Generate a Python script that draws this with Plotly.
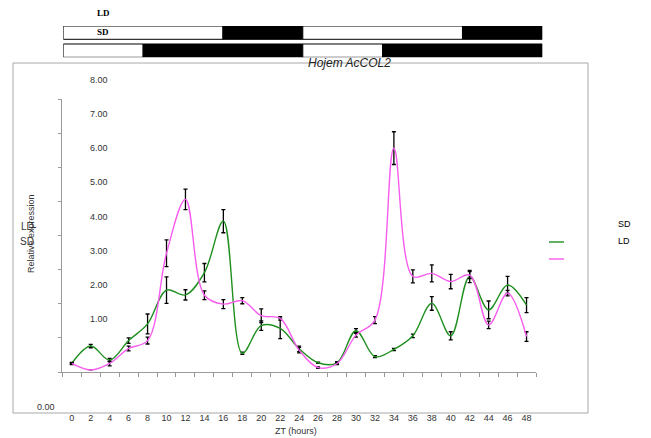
import plotly.graph_objects as go

# ---- data -------------------------------------------------------------
ZT = list(range(0, 49, 2))
ZT_LABELS = [str(t) for t in ZT]

SD_MEAN = [0.25, 0.76, 0.35, 0.92, 1.41, 2.40, 2.26, 2.91, 4.42, 0.55, 1.36, 1.28, 0.68,
           0.27, 0.27, 1.21, 0.45, 0.66, 1.06, 2.01, 1.06, 2.80, 1.82, 2.55, 1.96]
SD_ERR = [0.02, 0.05, 0.05, 0.08, 0.29, 0.39, 0.15, 0.27, 0.34, 0.03, 0.14, 0.30, 0.08,
          0.02, 0.03, 0.06, 0.03, 0.03, 0.05, 0.20, 0.12, 0.18, 0.26, 0.25, 0.22]

LD_MEAN = [0.25, 0.06, 0.25, 0.69, 0.92, 3.48, 5.06, 2.25, 1.99, 2.09, 1.65, 1.57, 0.64,
           0.13, 0.25, 1.08, 1.52, 6.56, 2.80, 2.89, 2.65, 2.84, 1.38, 2.31, 1.04]
LD_ERR = [0.03, 0.00, 0.07, 0.07, 0.10, 0.39, 0.30, 0.13, 0.13, 0.09, 0.20, 0.05, 0.08,
          0.02, 0.03, 0.06, 0.10, 0.48, 0.19, 0.25, 0.21, 0.10, 0.11, 0.08, 0.14]

Y_TICKS = [0, 1, 2, 3, 4, 5, 6, 7, 8]
Y_TICK_TEXT = ["0.00", "1.00", "2.00", "3.00", "4.00", "5.00", "6.00", "7.00", "8.00"]

# light / dark schedule bars (hours)
LD_SEG_START = [0, 16, 24, 40]
LD_SEG_END = [16, 24, 40, 48]
LD_SEG_LIGHT = [True, False, True, False]
SD_SEG_START = [0, 8, 24, 32]
SD_SEG_END = [8, 24, 32, 48]
SD_SEG_LIGHT = [True, False, True, False]

SERIES_NAMES = ["SD", "LD"]

# ---- layout helpers ---------------------------------------------------
W, H = 651, 438


def fx(px):
    return px / W


def fy(py):
    return 1 - py / H


GREEN = "#1f8f1f"
PINK = "#f75cef"
AXIS_GRAY = "#9a9a9a"
TEXT = "#333333"
FONT = "Liberation Sans"

X_DOMAIN = [fx(62.3), fx(536)]
Y_DOMAIN = [fy(372), fy(99)]

fig = go.Figure()

fig.add_trace(go.Scatter(
    x=ZT, y=SD_MEAN, name=SERIES_NAMES[0], mode="lines",
    line=dict(color=GREEN, width=1.4, shape="spline", smoothing=1),
    error_y=dict(type="data", array=SD_ERR, color="black", thickness=1.3, width=2),
    showlegend=False,
))
fig.add_trace(go.Scatter(
    x=ZT, y=LD_MEAN, name=SERIES_NAMES[1], mode="lines",
    line=dict(color=PINK, width=1.4, shape="spline", smoothing=1),
    error_y=dict(type="data", array=LD_ERR, color="black", thickness=1.3, width=2),
    showlegend=False,
))


# photoperiod bars on their own axes
def schedule_bar(row, starts, ends, light):
    return go.Bar(
        y=[row] * len(starts),
        x=[e - s for s, e in zip(starts, ends)],
        base=starts,
        orientation="h",
        width=0.74,
        marker=dict(color=["white" if l else "black" for l in light],
                    line=dict(color="black", width=1)),
        xaxis="x2", yaxis="y2", showlegend=False, hoverinfo="skip",
    )


fig.add_trace(schedule_bar(1, LD_SEG_START, LD_SEG_END, LD_SEG_LIGHT))
fig.add_trace(schedule_bar(0, SD_SEG_START, SD_SEG_END, SD_SEG_LIGHT))

boundaries = [t - 1 for t in ZT] + [ZT[-1] + 1]

fig.update_layout(
    width=W, height=H,
    margin=dict(l=0, r=0, t=0, b=0),
    paper_bgcolor="white", plot_bgcolor="white",
    barmode="overlay",
    xaxis=dict(
        domain=X_DOMAIN, range=[boundaries[0], boundaries[-1]],
        tickmode="array", tickvals=ZT, ticktext=ZT_LABELS, ticks="",
        ticklabelstandoff=37,
        tickfont=dict(family=FONT, size=9, color=TEXT),
        minor=dict(tickmode="array", tickvals=boundaries, ticks="outside",
                   ticklen=4, tickcolor=AXIS_GRAY, tickwidth=1, showgrid=False),
        showline=True, linecolor=AXIS_GRAY, linewidth=1,
        showgrid=False, zeroline=False, anchor="y",
    ),
    yaxis=dict(
        domain=Y_DOMAIN, range=[Y_TICKS[0], Y_TICKS[-1]],
        tickmode="array", tickvals=Y_TICKS, ticks="outside", ticklen=3,
        tickcolor=AXIS_GRAY, showticklabels=False,
        showline=True, linecolor=AXIS_GRAY, linewidth=1,
        showgrid=False, zeroline=False, anchor="x",
    ),
    xaxis2=dict(domain=[fx(63.3), fx(542.3)], range=[0, 48], visible=False,
                anchor="y2", fixedrange=True),
    yaxis2=dict(domain=[fy(57.3), fy(26)], range=[-0.37, 1.37], visible=False,
                anchor="x2", fixedrange=True),
    showlegend=False,
)

# outer frame
fig.add_shape(type="rect", xref="paper", yref="paper",
              x0=fx(13), x1=fx(588), y0=fy(413), y1=fy(63),
              line=dict(color="#a8a8a8", width=1), layer="below")

annotations = []


def text_at(px, py, text, size=9, color=TEXT, family=FONT, **extra):
    font = dict(family=family, size=size, color=color)
    font.update(extra.pop("font_extra", {}))
    annotations.append(dict(x=fx(px), y=fy(py), xref="paper", yref="paper",
                            text=text, showarrow=False,
                            xanchor="center", yanchor="middle",
                            font=font, **extra))


# y tick labels sit above their tick marks
y_px_per_unit = (372 - 99) / (Y_TICKS[-1] - Y_TICKS[0])
for v, txt in zip(Y_TICKS, Y_TICK_TEXT):
    if v == 0:
        text_at(46, 407, txt)
    else:
        text_at(99, 372 - v * y_px_per_unit - 19, txt)

# axis titles
text_at(296, 431, "ZT (hours)")
text_at(31, 234, "Relative expression", textangle=-90)
text_at(27, 226, "LD", size=10)
text_at(27, 241, "SD", size=10)

# title
text_at(349, 63, "Hojem AcCOL2", size=12, color="#222222",
        font_extra={"style": "italic"})

# photoperiod labels
text_at(103, 13, "<b>LD</b>", family="Liberation Serif", color="black")
text_at(103, 32, "<b>SD</b>", family="Liberation Serif", color="black")

# legend
for i, (name, color) in enumerate(zip(SERIES_NAMES, [GREEN, PINK])):
    fig.add_shape(type="line", xref="paper", yref="paper",
                  x0=fx(549), x1=fx(564), y0=fy(242 + 17 * i), y1=fy(242 + 17 * i),
                  line=dict(color=color, width=1.4))
    text_at(624, 224 + 17 * i, name, color="black")

fig.update_layout(annotations=annotations)

fig.write_html("out.html")
